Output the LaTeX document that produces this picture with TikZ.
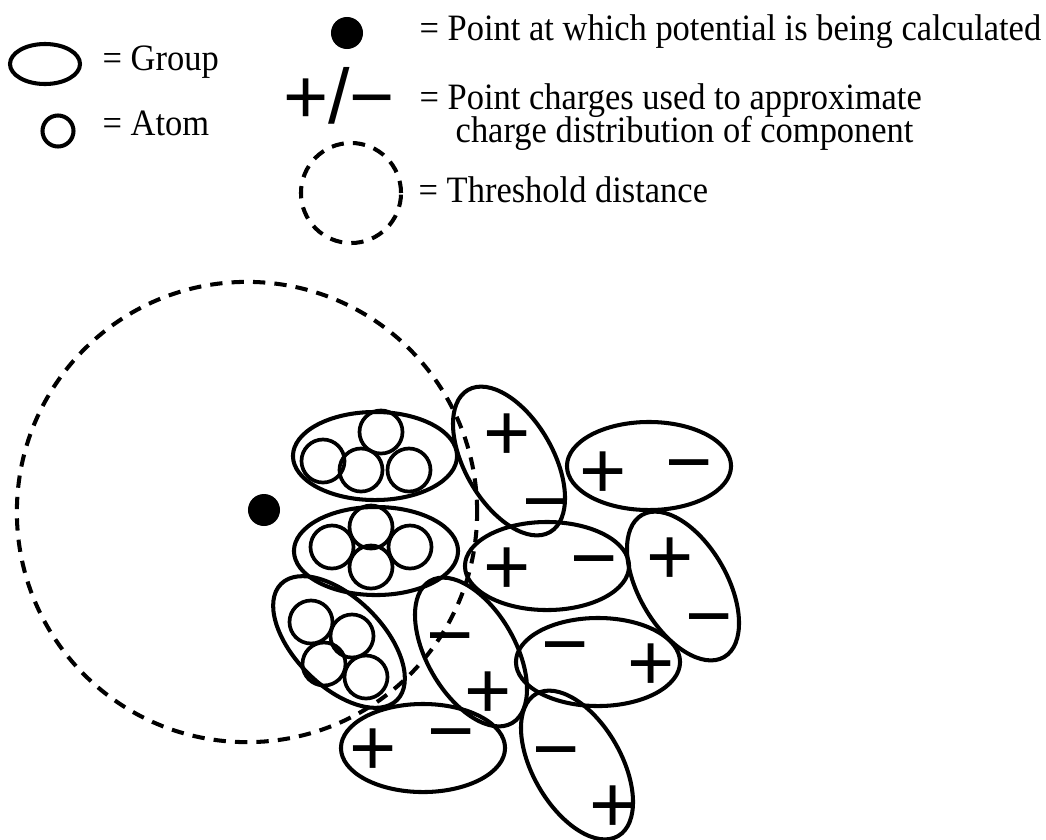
\documentclass[tikz,border=0pt]{standalone}
\usepackage{fontspec}
\setmainfont{Liberation Serif}
\newfontfamily\chgfont{Liberation Sans}
\usetikzlibrary{shapes.geometric}
\newcommand\chplus{+}
\newcommand\chminus{\char"2212}
\newcommand\tallt[1]{\scalebox{1}[1.08]{#1}}
\begin{document}
\begin{tikzpicture}[x=0.01cm,y=-0.01cm,
  grp/.style={draw, ellipse, line width=1.15pt, inner sep=0pt, minimum width=1.64cm, minimum height=0.88cm},
  atm/.style={draw, circle, line width=1.05pt, inner sep=0pt, minimum size=0.43cm},
  chg/.style={font=\chgfont\fontsize{23}{23}\selectfont, inner sep=0pt, anchor=base},
  lchgst/.style={font=\chgfont\fontsize{22}{22}\selectfont, inner sep=0pt, anchor=base},
  lbl/.style={font=\fontsize{9.8}{9.4}\selectfont, inner sep=0pt, anchor=base west},
  thr/.style={draw, circle, dash pattern=on 3.5pt off 2.6pt, line width=1.15pt, inner sep=0pt},
  dotpt/.style={fill, circle, inner sep=0pt, minimum size=0.32cm}]
\useasboundingbox (0,0) rectangle (1046,839);

% ---------- legend ----------
\node[draw, ellipse, line width=1.15pt, inner sep=0pt, minimum width=0.70cm, minimum height=0.40cm] (lgrp) at (45,64) {};
\node[lbl] (tgrp) at (102,70) {\tallt{= Group}};
\node[draw, circle, line width=1.15pt, inner sep=0pt, minimum size=0.31cm] (latm) at (58,131) {};
\node[lbl] (tatm) at (102,135) {\tallt{= Atom}};
\node[dotpt] (ldot) at (347,33) {};
\node[lbl] (tdot) at (419,40) {\tallt{= Point at which potential is being calculated}};
\node[lchgst] (lchg) at (339,123) {\chplus/\chminus};
\node[lbl] (tchg1) at (419,109) {\tallt{= Point charges used to approximate}};
\node[lbl] (tchg2) at (455,142) {\tallt{charge distribution of component}};
\node[thr, minimum size=1.0cm] (lthr) at (351,193) {};
\node[lbl] (tthr) at (418,202) {\tallt{= Threshold distance}};

% ---------- threshold circle and point ----------
\node[thr, minimum size=4.6cm] (thr) at (247,512) {};
\node[dotpt] (pt) at (264,510) {};

% ---------- groups of atoms ----------
\node[grp] (g1) at (375,456) {};
\node[atm] (g1a) at (323,461) {};
\node[atm] (g1b) at (381,432) {};
\node[atm] (g1c) at (361,470) {};
\node[atm] (g1d) at (409,470) {};

\node[grp] (g2) at (376,551) {};
\node[atm] (g2a) at (371,527) {};
\node[atm] (g2b) at (332,547) {};
\node[atm] (g2c) at (410,547) {};
\node[atm] (g2d) at (371,567) {};

\node[grp, rotate=-45] (g3) at (339,642) {};
\node[atm] (g3a) at (311,622) {};
\node[atm] (g3b) at (352,636) {};
\node[atm] (g3c) at (324,664) {};
\node[atm] (g3d) at (366,677) {};

% ---------- charged components ----------
\node[grp, rotate=-60] (ea) at (509,461) {};
\node[chg] (eap) at (507,460) {\chplus};
\node[chg] (eam) at (546,528) {\chminus};

\node[grp] (eb) at (649,466) {};
\node[chg] (ebp) at (603,498) {\chplus};
\node[chg] (ebm) at (689,489) {\chminus};

\node[grp] (ec) at (547,566) {};
\node[chg] (ecp) at (507,594) {\chplus};
\node[chg] (ecm) at (594,585) {\chminus};

\node[grp, rotate=-60] (ed) at (683,586) {};
\node[chg] (edp) at (670,584) {\chplus};
\node[chg] (edm) at (709,643) {\chminus};

\node[grp] (ee) at (598,662) {};
\node[chg] (eem) at (565,671) {\chminus};
\node[chg] (eep) at (651,690) {\chplus};

\node[grp, rotate=-60] (ef) at (471,652) {};
\node[chg] (efm) at (450,662) {\chminus};
\node[chg] (efp) at (488,718) {\chplus};

\node[grp] (eg) at (423,748) {};
\node[chg] (egp) at (373,775) {\chplus};
\node[chg] (egm) at (451,758) {\chminus};

\node[grp, rotate=-60] (eh) at (577,765) {};
\node[chg] (ehm) at (556,776) {\chminus};
\node[chg] (ehp) at (613,832) {\chplus};
\end{tikzpicture}
\end{document}
